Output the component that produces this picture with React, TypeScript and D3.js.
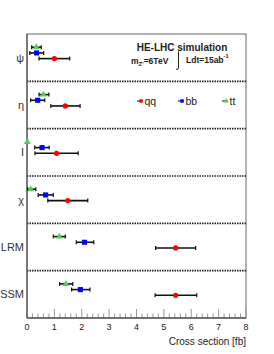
import * as d3 from "d3";
import { useEffect, useRef } from "react";

// models (rows, top to bottom) and the three decay channels
const models = ["ψ", "η", "I", "χ", "LRM", "SSM"];
const channels = ["tt", "bb", "qq"];

// central cross sections [fb] and error ranges, per model
const qqValues = [1.0, 1.4, 1.08, 1.49, 5.43, 5.43];
const qqLow = [0.44, 0.87, 0.29, 0.76, 4.7, 4.68];
const qqHigh = [1.56, 1.94, 1.87, 2.22, 6.16, 6.2];

const bbValues = [0.35, 0.39, 0.55, 0.68, 2.1, 1.95];
const bbLow = [0.1, 0.13, 0.28, 0.41, 1.8, 1.63];
const bbHigh = [0.61, 0.65, 0.81, 0.96, 2.44, 2.3];

const ttValues = [0.34, 0.6, 0.01, 0.13, 1.18, 1.42];
const ttLow = [0.17, 0.44, 0.0, 0.02, 0.96, 1.19];
const ttHigh = [0.52, 0.8, 0.02, 0.32, 1.4, 1.67];

const xTicks = [0, 1, 2, 3, 4, 5, 6, 7, 8];

const colors: Record<string, string> = { qq: "#ff0000", bb: "#0000ff", tt: "#55cc55" };

const App = () => {
  const ref = useRef<SVGSVGElement | null>(null);

  useEffect(() => {
    const svg = d3.select(ref.current);
    svg.selectAll("*").remove();

    const left = 27,
      right = 246,
      top = 34,
      bottom = 318;
    const font = "Liberation Sans, Arial, Helvetica, sans-serif";

    const x = d3.scaleLinear().domain([0, 8]).range([left, right]);
    const y = d3.scaleBand().domain(models).range([top, bottom]);
    const sub = d3.scalePoint().domain(channels).range([0.28, 0.52]);

    const rows = models.map((m, i) => ({
      model: m,
      qq: { v: qqValues[i], lo: qqLow[i], hi: qqHigh[i] },
      bb: { v: bbValues[i], lo: bbLow[i], hi: bbHigh[i] },
      tt: { v: ttValues[i], lo: ttLow[i], hi: ttHigh[i] },
    }));

    const symbolFor = (c: string) =>
      c === "qq" ? d3.symbolCircle : c === "bb" ? d3.symbolSquare : d3.symbolTriangle;

    // frame
    svg
      .append("rect")
      .attr("x", left)
      .attr("y", top)
      .attr("width", right - left)
      .attr("height", bottom - top)
      .attr("fill", "none")
      .attr("stroke", "#666")
      .attr("stroke-width", 1);

    // dotted separators
    models.slice(1).forEach((m) => {
      svg
        .append("line")
        .attr("x1", left)
        .attr("x2", right)
        .attr("y1", y(m)!)
        .attr("y2", y(m)!)
        .attr("stroke", "#222")
        .attr("stroke-width", 1.6)
        .attr("stroke-dasharray", "1.5,1");
    });

    // x axis: ticks pointing inward
    const minor = d3.range(0, 8.001, 0.2);
    svg
      .append("g")
      .selectAll("line")
      .data(minor)
      .join("line")
      .attr("x1", (d) => x(d))
      .attr("x2", (d) => x(d))
      .attr("y1", bottom)
      .attr("y2", (d) => (Math.abs(d - Math.round(d)) < 1e-6 ? bottom - 9 : bottom - 4.5))
      .attr("stroke", "#999")
      .attr("stroke-width", 1);
    svg
      .append("line")
      .attr("x1", left)
      .attr("x2", right)
      .attr("y1", bottom)
      .attr("y2", bottom)
      .attr("stroke", "#333")
      .attr("stroke-width", 1.2);
    svg
      .append("line")
      .attr("x1", left)
      .attr("x2", left)
      .attr("y1", top)
      .attr("y2", bottom)
      .attr("stroke", "#555")
      .attr("stroke-width", 1.2);

    svg
      .append("g")
      .selectAll("text")
      .data(xTicks)
      .join("text")
      .attr("x", (d) => x(d))
      .attr("y", 330)
      .attr("text-anchor", "middle")
      .attr("font-family", font)
      .attr("font-size", 9)
      .attr("fill", "#222")
      .text((d) => d);

    svg
      .append("text")
      .attr("x", right)
      .attr("y", 345)
      .attr("text-anchor", "end")
      .attr("font-family", font)
      .attr("font-size", 10)
      .attr("fill", "#222")
      .text("Cross section [fb]");

    // model labels
    svg
      .append("g")
      .selectAll("text")
      .data(models)
      .join("text")
      .attr("x", 24)
      .attr("y", (d) => y(d)! + y.bandwidth() / 2 + 4)
      .attr("text-anchor", "end")
      .attr("font-family", font)
      .attr("font-size", 11)
      .attr("fill", "#333")
      .text((d) => d);

    // error bars and markers
    channels.forEach((c) => {
      const g = svg.append("g");
      rows.forEach((r) => {
        const p = (r as any)[c];
        const cy = y(r.model)! + y.bandwidth() * sub(c)!;
        g.append("line")
          .attr("x1", x(p.lo))
          .attr("x2", x(p.hi))
          .attr("y1", cy)
          .attr("y2", cy)
          .attr("stroke", "#111")
          .attr("stroke-width", 1.6);
        [p.lo, p.hi].forEach((e: number) => {
          g.append("line")
            .attr("x1", x(e))
            .attr("x2", x(e))
            .attr("y1", cy - 2)
            .attr("y2", cy + 2)
            .attr("stroke", "#111")
            .attr("stroke-width", 1.2);
        });
        const size = c === "qq" ? 22 : c === "bb" ? 26 : 20;
        g.append("path")
          .attr("d", d3.symbol().type(symbolFor(c)).size(size)())
          .attr("transform", `translate(${x(p.v)},${cy})`)
          .attr("fill", colors[c]);
      });
    });

    // legend
    const legend = [
      { key: "qq", x: 141 },
      { key: "bb", x: 182 },
      { key: "tt", x: 226 },
    ];
    legend.forEach((l) => {
      const ly = 101;
      svg
        .append("line")
        .attr("x1", l.x - 4)
        .attr("x2", l.x + 2)
        .attr("y1", ly)
        .attr("y2", ly)
        .attr("stroke", "#111")
        .attr("stroke-width", 1);
      svg
        .append("path")
        .attr("d", d3.symbol().type(symbolFor(l.key)).size(12)())
        .attr("transform", `translate(${l.x},${ly})`)
        .attr("fill", colors[l.key]);
      svg
        .append("text")
        .attr("x", l.x + 3.5)
        .attr("y", ly + 4)
        .attr("font-family", font)
        .attr("font-size", 10.5)
        .attr("fill", "#222")
        .text(l.key);
    });

    // annotation
    svg
      .append("text")
      .attr("x", 182)
      .attr("y", 51)
      .attr("text-anchor", "middle")
      .attr("font-family", font)
      .attr("font-size", 10)
      .attr("font-weight", "bold")
      .attr("fill", "#222")
      .text("HE-LHC simulation");

    const mz = svg
      .append("text")
      .attr("x", 131)
      .attr("y", 64)
      .attr("font-family", font)
      .attr("font-size", 8.5)
      .attr("font-weight", "bold")
      .attr("fill", "#222");
    mz.append("tspan").text("m");
    mz.append("tspan").attr("font-size", 6).attr("dy", 2).text("Z'");
    mz.append("tspan").attr("dy", -2).text("=6TeV");

    // integral sign, drawn as a tall thin stroke
    svg
      .append("path")
      .attr("d", "M181,51 Q179.5,49 178.5,51.5 L178.5,68 Q178,70.5 176,69")
      .attr("fill", "none")
      .attr("stroke", "#222")
      .attr("stroke-width", 1);

    const ldt = svg
      .append("text")
      .attr("x", 186)
      .attr("y", 63)
      .attr("font-family", font)
      .attr("font-size", 8.5)
      .attr("font-weight", "bold")
      .attr("fill", "#222");
    ldt.append("tspan").text("Ldt=15ab");
    ldt.append("tspan").attr("font-size", 5.5).attr("dy", -5).text("-1");
  }, []);

  return (
    <svg
      ref={ref}
      width={274}
      height={354}
      style={{ position: "absolute", left: 0, top: 0, background: "#fff" }}
    ></svg>
  );
};

export default App;
